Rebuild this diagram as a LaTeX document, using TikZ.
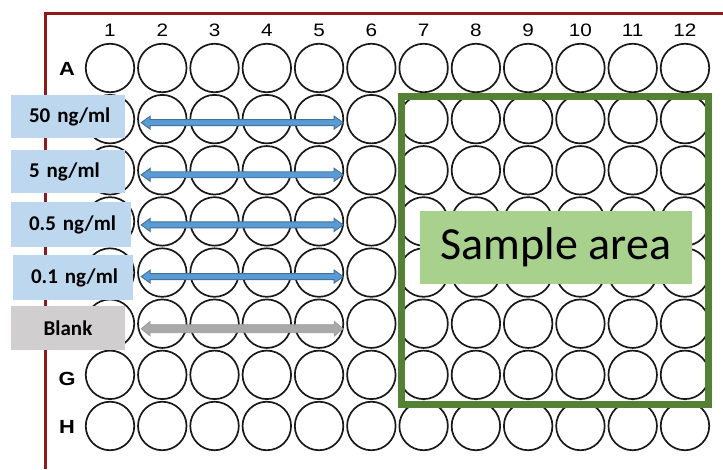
\documentclass[tikz,border=0pt]{standalone}
\usepackage{fontspec}
\usepackage{graphicx}
\setmainfont{Carlito}
\newfontfamily\arialf{Liberation Sans}
\usetikzlibrary{calc}
\definecolor{plateRed}{HTML}{8E1B1B}
\definecolor{lblBlue}{HTML}{BDD7EE}
\definecolor{lblGrey}{HTML}{D0CECE}
\definecolor{arrBlue}{HTML}{5B9BD5}
\definecolor{arrBlueDark}{HTML}{41719C}
\definecolor{arrGrey}{HTML}{A9A9A9}
\definecolor{arrGreyDark}{HTML}{9A9A9A}
\definecolor{areaGreen}{HTML}{548235}
\definecolor{areaFill}{HTML}{A9D18E}
% #1 start, #2 end, #3 style, #4 shaft half height, #5 head half height
\newcommand\dblarrow[5]{%
  \filldraw[#3] (#1) -- ($(#1)+(9,#5)$) -- ($(#1)+(9,#4)$) -- ($(#2)+(-9,#4)$) -- ($(#2)+(-9,#5)$) -- (#2)
   -- ($(#2)+(-9,-#5)$) -- ($(#2)+(-9,-#4)$) -- ($(#1)+(9,-#4)$) -- ($(#1)+(9,-#5)$) -- cycle;}
\newcommand\widetxt[1]{\scalebox{1.15}[1]{#1}}
\begin{document}
\begin{tikzpicture}[x=1pt,y=-1pt,
  well/.style={circle,draw=black!90,line width=1.7pt,minimum size=48.5pt,inner sep=0pt},
  colnum/.style={font=\fontsize{18}{20}\selectfont\arialf,inner sep=0pt},
  rowlet/.style={font=\fontsize{19}{21}\selectfont\arialf\bfseries,inner sep=0pt},
  lbl/.style={fill=lblBlue,font=\fontsize{21}{24}\selectfont\bfseries,inner xsep=0pt,inner ysep=0pt,align=left},
  blue arrow/.style={fill=arrBlue,draw=arrBlueDark,line width=0.9pt,line join=miter},
  grey arrow/.style={fill=arrGrey,draw=arrGreyDark,line width=0.6pt,line join=miter}]
\useasboundingbox (0,0) rectangle (723,469);
\fill[white] (0,0) rectangle (723,469);
% plate frame
\draw[plateRed,line width=3pt] (45,469) -- (45,13) -- (724,13);
% wells
\foreach \r [count=\ri from 0] in {A,B,C,D,E,F,G,H}{
  \foreach \c in {1,...,12}{
    \node[well] (w-\r-\c) at ({110+52.27*(\c-1)},{68+51.14*\ri}) {};
  }
}
\foreach \c in {1,...,12}{
  \node[colnum] (col-\c) at ({110+52.27*(\c-1)},30) {\widetxt{\c}};
}
\node[rowlet] (row-A) at (67,68.5) {\widetxt{A}};
\node[rowlet] (row-G) at (67,379) {\widetxt{G}};
\node[rowlet] (row-H) at (67,427) {\widetxt{H}};
% green sample area
\draw[areaGreen,line width=7pt] (401.5,96.5) rectangle (708.5,404.5);
\node[fill=areaFill,minimum width=272pt,minimum height=73pt,font=\fontsize{46}{50}\selectfont,inner sep=0pt] (sample) at (556,247.5) {Sample area};
% label boxes
\node[lbl,minimum height=43pt,text width=114pt] (l50) at (68,116.5) {\hspace*{18pt}50 ng/ml};
\node[lbl,minimum height=43pt,text width=114pt] (l5) at (68,171.5) {\hspace*{18pt}5 ng/ml};
\node[lbl,minimum height=45pt,text width=120pt] (l05) at (71,224.5) {\hspace*{18pt}0.5 ng/ml};
\node[lbl,minimum height=45pt,text width=120pt] (l01) at (73,277.5) {\hspace*{18pt}0.1 ng/ml};
\node[fill=lblGrey,font=\fontsize{21}{24}\selectfont\bfseries,minimum width=114pt,minimum height=44pt,inner sep=0pt] (lblank) at (68,328) {Blank};
% arrows
\coordinate (aB1) at ($(w-B-2.west)+(4,3.5)$);
\coordinate (aB2) at ($(w-B-5.east)+(-1,3.5)$);
\coordinate (aC1) at ($(w-C-2.west)+(4,4.5)$);
\coordinate (aC2) at ($(w-C-5.east)+(-1,4.5)$);
\coordinate (aD1) at ($(w-D-2.west)+(4,3.5)$);
\coordinate (aD2) at ($(w-D-5.east)+(-1,3.5)$);
\coordinate (aE1) at ($(w-E-2.west)+(4,4)$);
\coordinate (aE2) at ($(w-E-5.east)+(-1,4)$);
\coordinate (aF1) at ($(w-F-2.west)+(4,5)$);
\coordinate (aF2) at ($(w-F-5.east)+(-1,5)$);
\dblarrow{aB1}{aB2}{blue arrow}{3}{6.5}
\dblarrow{aC1}{aC2}{blue arrow}{3}{6.5}
\dblarrow{aD1}{aD2}{blue arrow}{3}{6.5}
\dblarrow{aE1}{aE2}{blue arrow}{3}{6.5}
\dblarrow{aF1}{aF2}{grey arrow}{4}{7.5}
\end{tikzpicture}
\end{document}
